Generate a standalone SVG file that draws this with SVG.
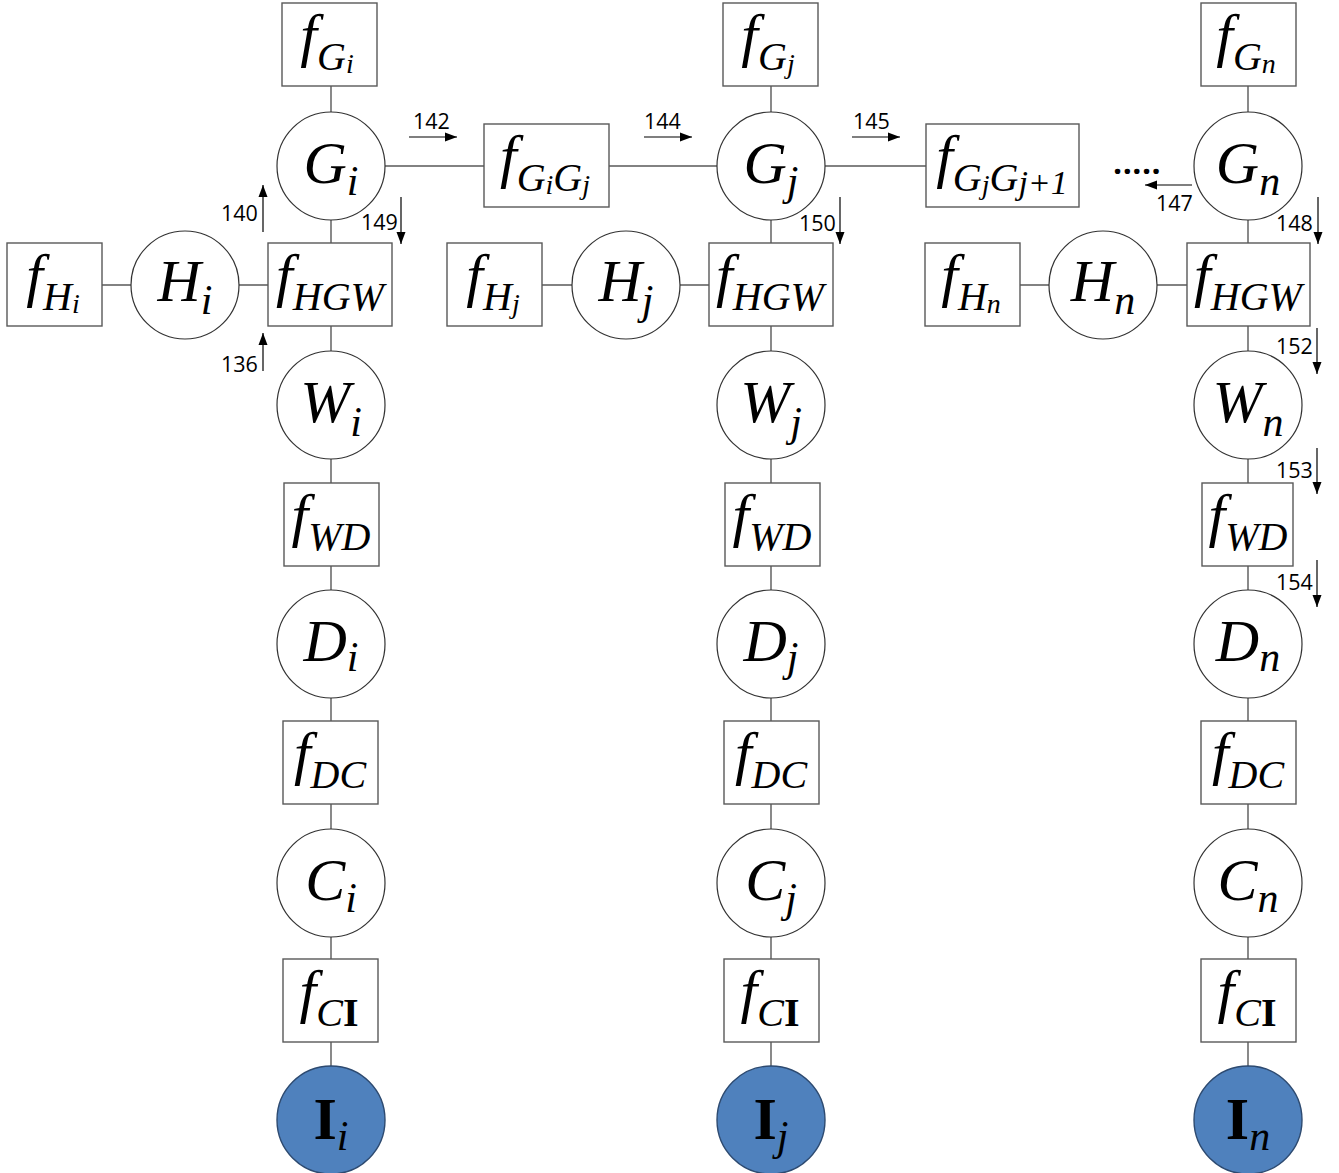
<svg xmlns="http://www.w3.org/2000/svg" width="1339" height="1173" viewBox="0 0 1339 1173">
<style>
.bx{fill:#fff;stroke:#595959;stroke-width:1.4}
.nd{fill:#fff;stroke:#333;stroke-width:1.2}
.nI{fill:#4f81bd;stroke:#2d4a70;stroke-width:1.4}
.ln{stroke:#595959;stroke-width:1.4;fill:none}
.ar{stroke:#000;stroke-width:1.2;fill:none;marker-end:url(#ah)}
.num{font-family:"Open Sans","Liberation Sans",sans-serif;font-size:21.5px;fill:#000}
.mf{font-family:"Liberation Serif","Times New Roman",serif;font-style:italic;font-size:60px;fill:#000}
.ms{font-size:40px}
.mss{font-size:28px}
.mj{font-size:34px}
.cb{font-family:"Liberation Serif","Times New Roman",serif;font-style:italic;font-size:60px;fill:#000}
.cs{font-size:42px}
.bd{font-style:normal;font-weight:bold}
</style>
<defs>
<marker id="ah" viewBox="0 0 12 10" refX="12" refY="5" markerWidth="12" markerHeight="10" markerUnits="userSpaceOnUse" orient="auto">
<path d="M0,0.5 L12,5 L0,9.5 Z" fill="#000"/>
</marker>
</defs>
<g id="connectors">
<path class="ln" d="M331,86V112M331,220V243M331,326V351M331,459V483M331,566V590M331,698V721M331,804V829M331,937V959M331,1042V1066"/>
<path class="ln" d="M771,86V112M771,220V243M771,326V351M771,459V483M771,566V590M771,698V721M771,804V829M771,937V959M771,1042V1066"/>
<path class="ln" d="M1248,86V112M1248,220V243M1248,326V351M1248,459V483M1248,566V590M1248,698V721M1248,804V829M1248,937V959M1248,1042V1066"/>
<path class="ln" d="M102,285H131M239,285H268M542,285H572M680,285H709M1020,285H1049M1157,285H1187"/>
<path class="ln" d="M385,166H484M609,166H717M825,166H926"/>
</g>
<g id="arrows">
<path class="ar" d="M409,137H457"/>
<path class="ar" d="M644,137H692"/>
<path class="ar" d="M852,137H900"/>
<path class="ar" d="M1192,185H1145"/>
<path class="ar" d="M263,232V185"/>
<path class="ar" d="M263,371V333"/>
<path class="ar" d="M401,197V244"/>
<path class="ar" d="M840,197V244"/>
<path class="ar" d="M1318,197V244"/>
<path class="ar" d="M1317,328V374"/>
<path class="ar" d="M1317,448V494"/>
<path class="ar" d="M1317,560V607"/>
<text class="num" x="413" y="129">142</text>
<text class="num" x="644" y="129">144</text>
<text class="num" x="853" y="129">145</text>
<text class="num" x="1156" y="211">147</text>
<text class="num" x="221" y="221">140</text>
<text class="num" x="221" y="372">136</text>
<text class="num" x="361" y="230">149</text>
<text class="num" x="799" y="231">150</text>
<text class="num" x="1276" y="231">148</text>
<text class="num" x="1276" y="354">152</text>
<text class="num" x="1276" y="478">153</text>
<text class="num" x="1276" y="590">154</text>
<text x="1113" y="174" font-family="Open Sans, Liberation Sans, sans-serif" font-size="32" font-weight="bold" letter-spacing="0.5">.....</text>
</g>
<!-- Column i -->
<g id="fGi"><rect class="bx" x="282" y="3" width="95" height="83"/><text class="mf" x="327" y="55" text-anchor="middle">f<tspan class="ms" dy="15">G</tspan><tspan class="mss" dy="3">i</tspan></text></g>
<g id="Gi"><circle class="nd" cx="331" cy="166" r="54"/><text class="cb" x="331" y="183" text-anchor="middle">G<tspan class="cs" dy="12">i</tspan></text></g>
<g id="fGiGj"><rect class="bx" x="484" y="124" width="125" height="83"/><text class="mf" x="545" y="176" text-anchor="middle">f<tspan class="ms" dy="15">G</tspan><tspan class="mss" dy="3">i</tspan><tspan class="ms" dy="-3">G</tspan><tspan class="mss" dy="3">j</tspan></text></g>
<g id="fHi"><rect class="bx" x="7" y="243" width="95" height="83"/><text class="mf" x="53" y="295" text-anchor="middle">f<tspan class="ms" dy="15">H</tspan><tspan class="mss" dy="3">i</tspan></text></g>
<g id="Hi"><circle class="nd" cx="185" cy="285" r="54"/><text class="cb" x="185" y="301" text-anchor="middle">H<tspan class="cs" dy="13">i</tspan></text></g>
<g id="fHGWi"><rect class="bx" x="268" y="243" width="124" height="83"/><text class="mf" x="330" y="295" text-anchor="middle">f<tspan class="ms" dy="15">HGW</tspan></text></g>
<g id="Wi"><circle class="nd" cx="331" cy="405" r="54"/><text class="cb" x="331" y="422" text-anchor="middle">W<tspan class="cs" dy="14">i</tspan></text></g>
<g id="fWDi"><rect class="bx" x="284" y="483" width="95" height="83"/><text class="mf" x="331" y="535" text-anchor="middle">f<tspan class="ms" dy="15">WD</tspan></text></g>
<g id="Di"><circle class="nd" cx="331" cy="644" r="54"/><text class="cb" x="331" y="661" text-anchor="middle">D<tspan class="cs" dy="10">i</tspan></text></g>
<g id="fDCi"><rect class="bx" x="283" y="721" width="95" height="83"/><text class="mf" x="330" y="773" text-anchor="middle">f<tspan class="ms" dy="15">DC</tspan></text></g>
<g id="Ci"><circle class="nd" cx="331" cy="883" r="54"/><text class="cb" x="331" y="900" text-anchor="middle">C<tspan class="cs" dy="12">i</tspan></text></g>
<g id="fCIi"><rect class="bx" x="283" y="959" width="95" height="83"/><text class="mf" x="329" y="1011" text-anchor="middle">f<tspan class="ms" dy="15">C</tspan><tspan class="ms bd">I</tspan></text></g>
<g id="Ii"><circle class="nI" cx="331" cy="1120" r="54"/><text class="cb" x="331" y="1139" text-anchor="middle"><tspan class="bd">I</tspan><tspan class="cs" dy="11">i</tspan></text></g>
<!-- Column j -->
<g id="fGj"><rect class="bx" x="723" y="3" width="95" height="83"/><text class="mf" x="768" y="55" text-anchor="middle">f<tspan class="ms" dy="15">G</tspan><tspan class="mss" dy="3">j</tspan></text></g>
<g id="Gj"><circle class="nd" cx="771" cy="166" r="54"/><text class="cb" x="771" y="183" text-anchor="middle">G<tspan class="cs" dy="12">j</tspan></text></g>
<g id="fGjGj1"><rect class="bx" x="926" y="124" width="153" height="83"/><text class="mf" x="1002" y="176" text-anchor="middle">f<tspan class="ms" dy="15">G</tspan><tspan class="mss" dy="3">j</tspan><tspan class="ms" dy="-3">G</tspan><tspan class="mj" dy="3">j+1</tspan></text></g>
<g id="fHj"><rect class="bx" x="447" y="243" width="95" height="83"/><text class="mf" x="493" y="295" text-anchor="middle">f<tspan class="ms" dy="15">H</tspan><tspan class="mss" dy="3">j</tspan></text></g>
<g id="Hj"><circle class="nd" cx="626" cy="285" r="54"/><text class="cb" x="626" y="301" text-anchor="middle">H<tspan class="cs" dy="13">j</tspan></text></g>
<g id="fHGWj"><rect class="bx" x="709" y="243" width="124" height="83"/><text class="mf" x="770" y="295" text-anchor="middle">f<tspan class="ms" dy="15">HGW</tspan></text></g>
<g id="Wj"><circle class="nd" cx="771" cy="405" r="54"/><text class="cb" x="771" y="422" text-anchor="middle">W<tspan class="cs" dy="14">j</tspan></text></g>
<g id="fWDj"><rect class="bx" x="725" y="483" width="95" height="83"/><text class="mf" x="772" y="535" text-anchor="middle">f<tspan class="ms" dy="15">WD</tspan></text></g>
<g id="Dj"><circle class="nd" cx="771" cy="644" r="54"/><text class="cb" x="771" y="661" text-anchor="middle">D<tspan class="cs" dy="10">j</tspan></text></g>
<g id="fDCj"><rect class="bx" x="724" y="721" width="95" height="83"/><text class="mf" x="771" y="773" text-anchor="middle">f<tspan class="ms" dy="15">DC</tspan></text></g>
<g id="Cj"><circle class="nd" cx="771" cy="883" r="54"/><text class="cb" x="771" y="900" text-anchor="middle">C<tspan class="cs" dy="12">j</tspan></text></g>
<g id="fCIj"><rect class="bx" x="724" y="959" width="95" height="83"/><text class="mf" x="770" y="1011" text-anchor="middle">f<tspan class="ms" dy="15">C</tspan><tspan class="ms bd">I</tspan></text></g>
<g id="Ij"><circle class="nI" cx="771" cy="1120" r="54"/><text class="cb" x="771" y="1139" text-anchor="middle"><tspan class="bd">I</tspan><tspan class="cs" dy="11">j</tspan></text></g>
<!-- Column n -->
<g id="fGn"><rect class="bx" x="1201" y="3" width="95" height="83"/><text class="mf" x="1246" y="55" text-anchor="middle">f<tspan class="ms" dy="15">G</tspan><tspan class="mss" dy="3">n</tspan></text></g>
<g id="Gn"><circle class="nd" cx="1248" cy="166" r="54"/><text class="cb" x="1248" y="183" text-anchor="middle">G<tspan class="cs" dy="12">n</tspan></text></g>
<g id="fHn"><rect class="bx" x="925" y="243" width="95" height="83"/><text class="mf" x="971" y="295" text-anchor="middle">f<tspan class="ms" dy="15">H</tspan><tspan class="mss" dy="3">n</tspan></text></g>
<g id="Hn"><circle class="nd" cx="1103" cy="285" r="54"/><text class="cb" x="1103" y="301" text-anchor="middle">H<tspan class="cs" dy="13">n</tspan></text></g>
<g id="fHGWn"><rect class="bx" x="1187" y="243" width="123" height="83"/><text class="mf" x="1248" y="295" text-anchor="middle">f<tspan class="ms" dy="15">HGW</tspan></text></g>
<g id="Wn"><circle class="nd" cx="1248" cy="405" r="54"/><text class="cb" x="1248" y="422" text-anchor="middle">W<tspan class="cs" dy="14">n</tspan></text></g>
<g id="fWDn"><rect class="bx" x="1202" y="483" width="91" height="83"/><text class="mf" x="1248" y="535" text-anchor="middle">f<tspan class="ms" dy="15">WD</tspan></text></g>
<g id="Dn"><circle class="nd" cx="1248" cy="644" r="54"/><text class="cb" x="1248" y="661" text-anchor="middle">D<tspan class="cs" dy="10">n</tspan></text></g>
<g id="fDCn"><rect class="bx" x="1201" y="721" width="95" height="83"/><text class="mf" x="1248" y="773" text-anchor="middle">f<tspan class="ms" dy="15">DC</tspan></text></g>
<g id="Cn"><circle class="nd" cx="1248" cy="883" r="54"/><text class="cb" x="1248" y="900" text-anchor="middle">C<tspan class="cs" dy="12">n</tspan></text></g>
<g id="fCIn"><rect class="bx" x="1201" y="959" width="95" height="83"/><text class="mf" x="1247" y="1011" text-anchor="middle">f<tspan class="ms" dy="15">C</tspan><tspan class="ms bd">I</tspan></text></g>
<g id="In"><circle class="nI" cx="1248" cy="1120" r="54"/><text class="cb" x="1248" y="1139" text-anchor="middle"><tspan class="bd">I</tspan><tspan class="cs" dy="11">n</tspan></text></g>
</svg>
